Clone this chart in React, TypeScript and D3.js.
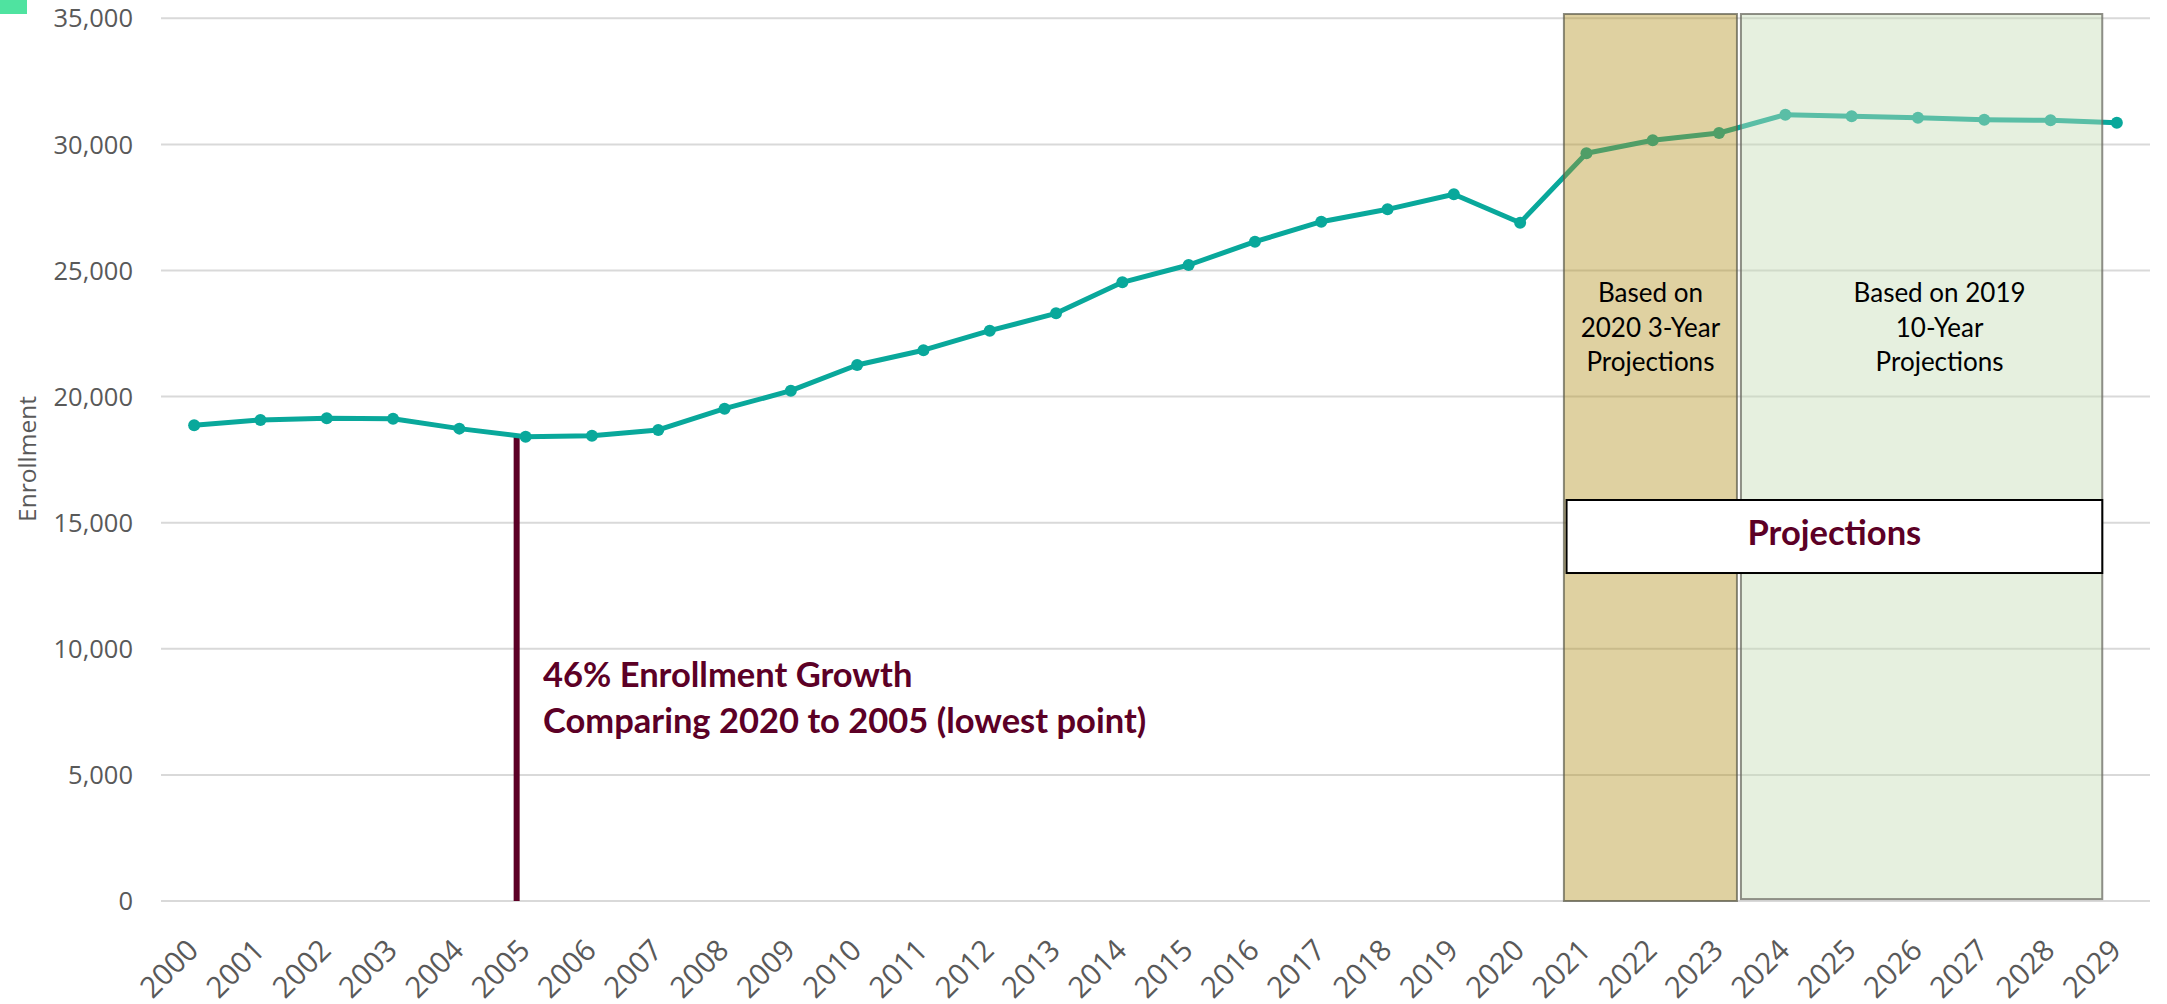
import React from "react";
import * as d3 from "d3";

const years: string[] = [
  "2000","2001","2002","2003","2004","2005","2006","2007","2008","2009",
  "2010","2011","2012","2013","2014","2015","2016","2017","2018","2019",
  "2020","2021","2022","2023","2024","2025","2026","2027","2028","2029",
];
const enrollment: number[] = [
  18860, 19075, 19140, 19125, 18730, 18411, 18450, 18676, 19520, 20234,
  21253, 21840, 22613, 23302, 24531, 25218, 26142, 26935, 27426, 28021,
  26895, 29647, 30162, 30452, 31178, 31114, 31059, 30980, 30955, 30860,
];
const yTicks: number[] = [0, 5000, 10000, 15000, 20000, 25000, 30000, 35000];

const W = 2167;
const H = 1004;
const left = 161;
const right = 2150;
const top = 18.3;
const bottom = 901;

const TEAL = "#09A89B";
const MAROON = "#5C0026";

export default function App() {
  const x = d3.scaleBand<string>().domain(years).range([left, right]).padding(0);
  const xc = (d: string) => (x(d) as number) + x.bandwidth() / 2;
  const xi = d3.scaleLinear().domain([-0.5, years.length - 0.5]).range([left, right]);
  const y = d3.scaleLinear().domain([0, 35000]).range([bottom, top]);

  const pts = years.map((yr, i) => ({ yr, v: enrollment[i] }));
  const line = d3
    .line<{ yr: string; v: number }>()
    .x((d) => xc(d.yr))
    .y((d) => y(d.v));

  const fmt = d3.format(",");
  const lowIdx = years.indexOf("2005");

  const brown = { x0: xi(20.66), x1: xi(23.27), y0: y(35170), y1: y(0) };
  const green = { x0: xi(23.33), x1: xi(28.78), y0: y(35170), y1: y(75) };
  const proj = { x0: xi(20.7), x1: xi(28.78), y0: y(15900), y1: y(13005) };

  return (
    <svg
      width={W}
      height={H}
      style={{ position: "absolute", left: 0, top: 0, background: "#fff" }}
    >
      <rect x={0} y={0} width={27} height={14} fill="#4FE3A0" />

      {yTicks.map((t) => (
        <g key={t}>
          <line x1={left} x2={right} y1={y(t)} y2={y(t)} stroke="#D9D9D9" strokeWidth={2} />
          <text
            x={133}
            y={y(t)}
            dy="0.36em"
            textAnchor="end"
            fontFamily="'Open Sans', sans-serif"
            fontSize={25.5}
            fill="#595959"
          >
            {fmt(t)}
          </text>
        </g>
      ))}

      <text
        transform={`translate(27,459) rotate(-90)`}
        textAnchor="middle"
        dy="0.35em"
        fontFamily="'Open Sans', sans-serif"
        fontSize={24.5}
        fill="#595959"
      >
        Enrollment
      </text>

      {years.map((yr) => (
        <text
          key={yr}
          transform={`translate(${xc(yr) + 6},952) rotate(-45)`}
          textAnchor="end"
          fontFamily="'Open Sans', sans-serif"
          fontSize={29.5}
          fill="#595959"
        >
          {yr}
        </text>
      ))}

      <line
        x1={xc("2005") - 9}
        x2={xc("2005") - 9}
        y1={y(enrollment[lowIdx])}
        y2={y(0)}
        stroke={MAROON}
        strokeWidth={6}
      />

      <path d={line(pts) || ""} fill="none" stroke={TEAL} strokeWidth={5} strokeLinejoin="round" />
      {pts.map((p) => (
        <circle key={p.yr} cx={xc(p.yr)} cy={y(p.v)} r={6} fill={TEAL} />
      ))}

      <rect
        x={brown.x0}
        y={brown.y0}
        width={brown.x1 - brown.x0}
        height={brown.y1 - brown.y0}
        fill="#B39120"
        fillOpacity={0.42}
        stroke="#5A5A4A"
        strokeOpacity={0.7}
        strokeWidth={2}
      />
      <rect
        x={green.x0}
        y={green.y0}
        width={green.x1 - green.x0}
        height={green.y1 - green.y0}
        fill="#C5DCB4"
        fillOpacity={0.43}
        stroke="#6A6A60"
        strokeOpacity={0.75}
        strokeWidth={2}
      />

      <g fontFamily="Lato, sans-serif" fontSize={26} fill="#000" textAnchor="middle">
        <text x={(brown.x0 + brown.x1) / 2} y={301.7}>Based on</text>
        <text x={(brown.x0 + brown.x1) / 2} y={336.7}>2020 3-Year</text>
        <text x={(brown.x0 + brown.x1) / 2} y={370.7}>Projections</text>
        <text x={(green.x0 + green.x1) / 2 + 18} y={301.7}>Based on 2019</text>
        <text x={(green.x0 + green.x1) / 2 + 18} y={336.7}>10-Year</text>
        <text x={(green.x0 + green.x1) / 2 + 18} y={370.7}>Projections</text>
      </g>

      <rect
        x={proj.x0}
        y={proj.y0}
        width={proj.x1 - proj.x0}
        height={proj.y1 - proj.y0}
        fill="#fff"
        stroke="#000"
        strokeWidth={2}
      />
      <text
        x={(proj.x0 + proj.x1) / 2}
        y={545}
        textAnchor="middle"
        fontFamily="Lato, sans-serif"
        fontWeight="bold"
        fontSize={34.5}
        fill={MAROON}
      >
        Projections
      </text>

      <g fontFamily="Lato, sans-serif" fontWeight="bold" fontSize={34.5} fill={MAROON}>
        <text x={543} y={686.7}>46% Enrollment Growth</text>
        <text x={543} y={732.7}>Comparing 2020 to 2005 (lowest point)</text>
      </g>
    </svg>
  );
}
